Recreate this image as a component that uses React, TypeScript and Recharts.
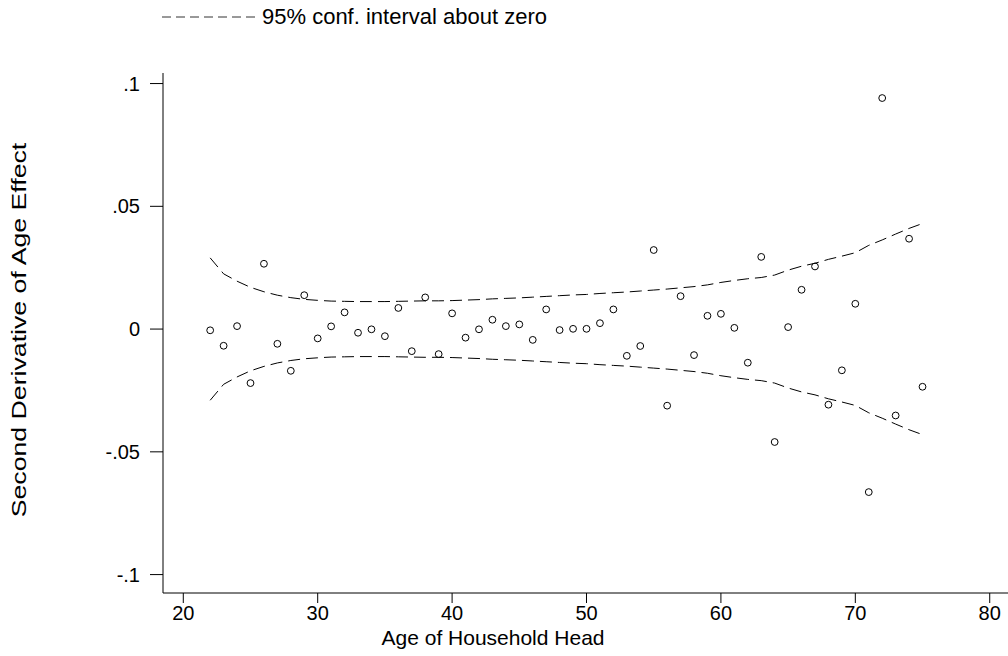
import React from 'react';
import { ScatterChart, Scatter, XAxis, YAxis } from 'recharts';

const FONT = '"Liberation Sans", Arial, Helvetica, sans-serif';

// household head age, one estimate per year of age
const ages = [
  22, 23, 24, 25, 26, 27, 28, 29, 30, 31, 32, 33, 34, 35, 36, 37, 38, 39,
  40, 41, 42, 43, 44, 45, 46, 47, 48, 49, 50, 51, 52, 53, 54, 55, 56, 57,
  58, 59, 60, 61, 62, 63, 64, 65, 66, 67, 68, 69, 70, 71, 72, 73, 74, 75,
];

const secondDeriv = [
  -0.0005, -0.0068, 0.0012, -0.022, 0.0266, -0.006, -0.017, 0.0138, -0.0038,
  0.0011, 0.0068, -0.0015, -0.0001, -0.0029, 0.0086, -0.009, 0.0129, -0.0102,
  0.0064, -0.0035, -0.0001, 0.0038, 0.0012, 0.0019, -0.0044, 0.008, -0.0004,
  0.0001, 0.0001, 0.0024, 0.008, -0.0109, -0.0069, 0.0322, -0.0312, 0.0134,
  -0.0106, 0.0054, 0.0062, 0.0005, -0.0137, 0.0294, -0.046, 0.0008, 0.016,
  0.0255, -0.0308, -0.0168, 0.0103, -0.0664, 0.0941, -0.0352, 0.0368, -0.0235,
];

const ciUpper = [
  0.029, 0.0225, 0.0195, 0.017, 0.0152, 0.0138, 0.0128, 0.0121, 0.0117,
  0.0114, 0.0113, 0.0112, 0.0112, 0.0112, 0.0113, 0.0114, 0.0115, 0.0115,
  0.0116, 0.0118, 0.012, 0.0123, 0.0125, 0.0127, 0.013, 0.0133, 0.0136,
  0.0139, 0.0141, 0.0145, 0.0148, 0.0151, 0.0155, 0.0159, 0.0163, 0.0168,
  0.0173, 0.018, 0.019, 0.0198, 0.0205, 0.021, 0.022, 0.024, 0.0256,
  0.0268, 0.0284, 0.0297, 0.0311, 0.0341, 0.0363, 0.0387, 0.041, 0.043,
];

const ciLower = [
  -0.029, -0.0225, -0.0195, -0.017, -0.0152, -0.0138, -0.0128, -0.0121, -0.0117,
  -0.0114, -0.0113, -0.0112, -0.0112, -0.0112, -0.0113, -0.0114, -0.0115, -0.0115,
  -0.0116, -0.0118, -0.012, -0.0123, -0.0125, -0.0127, -0.013, -0.0133, -0.0136,
  -0.0139, -0.0141, -0.0145, -0.0148, -0.0151, -0.0155, -0.0159, -0.0163, -0.0168,
  -0.0173, -0.018, -0.019, -0.0198, -0.0205, -0.021, -0.022, -0.024, -0.0256,
  -0.0268, -0.0284, -0.0297, -0.0311, -0.0341, -0.0363, -0.0387, -0.041, -0.043,
];

const xTicks = [20, 30, 40, 50, 60, 70, 80];
const yTicks = [-0.1, -0.05, 0, 0.05, 0.1];

const points = ages.map((age, i) => ({ age, v: secondDeriv[i] }));
const upper = ages.map((age, i) => ({ age, v: ciUpper[i] }));
const lower = ages.map((age, i) => ({ age, v: ciLower[i] }));

const fmtY = (v: number) => (v === 0 ? '0' : String(v).replace('0.', '.'));

const Hollow = (props: any) => (
  <circle cx={props.cx} cy={props.cy} r={3.4} fill="none" stroke="#000" strokeWidth={1} />
);
const NoDot = () => <g />;

const dashLine = { stroke: '#000', strokeWidth: 1, strokeDasharray: '12 6', fill: 'none' };

const XTitle = () => (
  <text x={493} y={645} textAnchor="middle" fontFamily={FONT} fontSize={21} fill="#000">
    Age of Household Head
  </text>
);

// the original title is drawn longer than its glyph size suggests, so stretch it along its run
const YTitle = () => (
  <text
    x={0}
    y={0}
    transform="translate(19 330) rotate(-90) scale(1.27 1)"
    textAnchor="middle"
    dominantBaseline="central"
    fontFamily={FONT}
    fontSize={21}
    fill="#000"
  >
    Second Derivative of Age Effect
  </text>
);

export default function App() {
  const tick = { fill: '#000', fontSize: 20, fontFamily: FONT };
  return (
    <div style={{ position: 'absolute', left: 0, top: 0, width: 1008, height: 656, background: '#fff' }}>
      <div
        style={{
          position: 'absolute', left: 162, top: 4, display: 'flex', alignItems: 'center',
          fontFamily: FONT, fontSize: 22, color: '#000', whiteSpace: 'nowrap',
        }}
      >
        <svg width={96} height={24}>
          <line x1={0} y1={12} x2={94} y2={12} stroke="#333" strokeWidth={1} strokeDasharray="9 5" />
        </svg>
        <span style={{ marginLeft: 4 }}>95% conf. interval about zero</span>
      </div>
      <ScatterChart width={1008} height={656} margin={{ top: 73, right: 0, bottom: 0, left: 0 }}>
        <XAxis
          type="number"
          dataKey="age"
          domain={[18.49, 81.36]}
          allowDataOverflow
          ticks={xTicks}
          interval={0}
          height={63}
          tickSize={10}
          tickMargin={3}
          tick={tick}
          tickLine={{ stroke: '#000' }}
          axisLine={{ stroke: '#000' }}
          label={<XTitle />}
        />
        <YAxis
          type="number"
          dataKey="v"
          domain={[-0.1075, 0.1043]}
          allowDataOverflow
          ticks={yTicks}
          interval={0}
          width={163}
          tickSize={13}
          tickMargin={10}
          tick={tick}
          tickFormatter={fmtY}
          tickLine={{ stroke: '#000' }}
          axisLine={{ stroke: '#000' }}
          label={<YTitle />}
        />
        <Scatter data={upper} shape={NoDot} line={dashLine} lineType="joint" isAnimationActive={false} />
        <Scatter data={lower} shape={NoDot} line={dashLine} lineType="joint" isAnimationActive={false} />
        <Scatter data={points} shape={Hollow} isAnimationActive={false} />
      </ScatterChart>
    </div>
  );
}
